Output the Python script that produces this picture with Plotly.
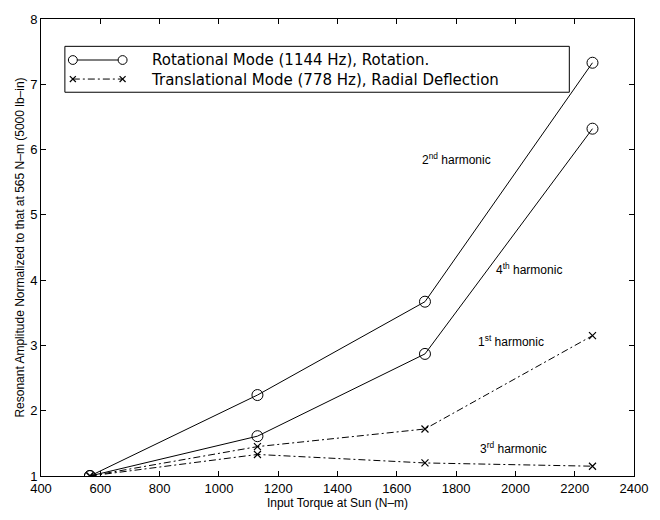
import plotly.graph_objects as go

# Input torque at the sun gear (N-m)
torque = [565, 1130, 1695, 2260]

# Normalized resonant amplitudes
rot_2nd = [1.0, 2.24, 3.67, 7.33]
rot_4th = [1.0, 1.61, 2.87, 6.32]
trans_1st = [1.0, 1.45, 1.72, 3.15]
trans_3rd = [1.0, 1.33, 1.20, 1.15]

legend_rot = "Rotational Mode (1144 Hz), Rotation."
legend_trans = "Translational Mode (778 Hz), Radial Deflection"

harmonic_labels = ["2<sup>nd</sup> harmonic", "4<sup>th</sup> harmonic",
                   "1<sup>st</sup> harmonic", "3<sup>rd</sup> harmonic"]
label_x = [1800, 2045, 1985, 1995]
label_y = [5.85, 4.17, 3.07, 1.43]

FONT = "Liberation Sans, Arial, Helvetica, sans-serif"
LEGEND_FONT = "DejaVu Sans, Liberation Sans, sans-serif"
dashdot = "7px,3px,2px,3px"

W, H = 660, 520
ML, MR, MT, MB = 41, 23, 15, 37
PW, PH = W - ML - MR, H - MT - MB


def px(xp):
    """Pixel column -> paper x."""
    return (xp - ML) / PW


def py(yp):
    """Pixel row -> paper y."""
    return (H - MB - yp) / PH


fig = go.Figure()

for ys in [rot_2nd, rot_4th]:
    fig.add_trace(go.Scatter(
        x=torque, y=ys, mode="lines+markers", name=legend_rot,
        showlegend=False,
        line=dict(color="black", width=1),
        marker=dict(symbol="circle-open", size=11, color="black",
                    line=dict(width=1, color="black")),
    ))

for ys in [trans_1st, trans_3rd]:
    fig.add_trace(go.Scatter(
        x=torque, y=ys, mode="lines+markers", name=legend_trans,
        showlegend=False,
        line=dict(color="black", width=1, dash=dashdot),
        marker=dict(symbol="x-thin-open", size=7, color="black",
                    line=dict(width=1.2, color="black")),
    ))

for txt, lx, ly in zip(harmonic_labels, label_x, label_y):
    fig.add_annotation(x=lx, y=ly, text=txt, showarrow=False,
                       font=dict(size=12, color="black", family=FONT))

# Boxed legend with a marker at each end of the sample line
shapes = [dict(type="rect", xref="paper", yref="paper",
               x0=px(65), x1=px(572), y0=py(90), y1=py(43),
               line=dict(color="black", width=1), fillcolor="white", layer="above")]
row_y = [57, 76.5]
sx0, sx1 = 73, 123
# rotational sample
shapes.append(dict(type="line", xref="paper", yref="paper",
                   x0=px(sx0), x1=px(sx1), y0=py(row_y[0]), y1=py(row_y[0]),
                   line=dict(color="black", width=1), layer="above"))
for cx in (sx0, sx1):
    shapes.append(dict(type="circle", xref="paper", yref="paper",
                       x0=px(cx - 4.5), x1=px(cx + 4.5),
                       y0=py(row_y[0] + 4.5), y1=py(row_y[0] - 4.5),
                       line=dict(color="black", width=1), fillcolor="white",
                       layer="above"))
# translational sample
shapes.append(dict(type="line", xref="paper", yref="paper",
                   x0=px(sx0), x1=px(sx1), y0=py(row_y[1]), y1=py(row_y[1]),
                   line=dict(color="black", width=1, dash=dashdot), layer="above"))
for cx in (sx0, sx1):
    for d in (1, -1):
        shapes.append(dict(type="line", xref="paper", yref="paper",
                           x0=px(cx - 3), x1=px(cx + 3),
                           y0=py(row_y[1] - 3 * d), y1=py(row_y[1] + 3 * d),
                           line=dict(color="black", width=1.2), layer="above"))
fig.update_layout(shapes=shapes)

# Both legend entries in one text block so the lines stack cleanly
fig.add_annotation(xref="paper", yref="paper", x=px(150),
                   y=py((row_y[0] + row_y[1]) / 2),
                   xanchor="left", yanchor="middle", align="left",
                   text=legend_rot + "<br>" + legend_trans,
                   showarrow=False,
                   font=dict(size=15, color="black", family=LEGEND_FONT))

axis_common = dict(
    showline=True, linecolor="black", linewidth=1, mirror="ticks",
    ticks="inside", ticklen=5, tickcolor="black", tickwidth=1,
    showgrid=False, zeroline=False,
    tickfont=dict(size=13, color="black", family=FONT),
)

fig.update_xaxes(range=[400, 2400], dtick=200,
                 title=dict(text="Input Torque at Sun (N\u2013m)", standoff=4,
                            font=dict(size=12, color="black", family=FONT)),
                 **axis_common)
fig.update_yaxes(range=[1, 8], dtick=1,
                 title=dict(text="Resonant Amplitude Normalized to that at 565 N\u2013m (5000 lb\u2013in)",
                            standoff=2,
                            font=dict(size=12, color="black", family=FONT)),
                 **axis_common)

fig.update_layout(
    width=W, height=H,
    margin=dict(l=ML, r=MR, t=MT, b=MB),
    paper_bgcolor="white", plot_bgcolor="white",
    font=dict(family=FONT, color="black"),
    showlegend=False,
)

fig.write_html("out.html")
